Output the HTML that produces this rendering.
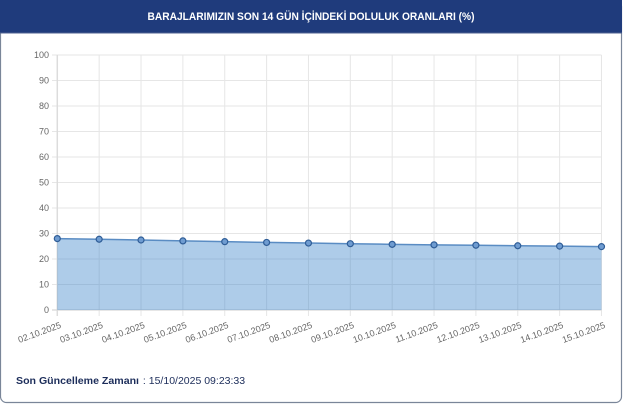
<!DOCTYPE html>
<html><head><meta charset="utf-8"><style>
html,body{margin:0;padding:0;background:#fff;width:640px;height:404px;overflow:hidden}
svg{display:block}
</style></head><body>
<svg width="640" height="404" viewBox="0 0 640 404" xmlns="http://www.w3.org/2000/svg" font-family="Liberation Sans, Arial, sans-serif">
<!-- card -->
<rect x="0.5" y="0.5" width="621" height="402" rx="6" ry="6" fill="#fff" stroke="#7a8699" stroke-width="1.2"/>
<rect x="0" y="0" width="622" height="33" fill="#1f3b7c"/>
<line x1="0" y1="33" x2="622" y2="33" stroke="#4f6290" stroke-width="1"/>
<text x="311" y="19.8" text-anchor="middle" fill="#fff" font-size="11" font-weight="bold" textLength="327" lengthAdjust="spacingAndGlyphs">BARAJLARIMIZIN SON 14 GÜN İÇİNDEKİ DOLULUK ORANLARI (%)</text>

<!-- horizontal grid -->
<g stroke="#e6e6e6" stroke-width="1">
<line x1="52" y1="284.5" x2="601.5" y2="284.5"/>
<line x1="52" y1="259" x2="601.5" y2="259"/>
<line x1="52" y1="233.5" x2="601.5" y2="233.5"/>
<line x1="52" y1="208" x2="601.5" y2="208"/>
<line x1="52" y1="182.5" x2="601.5" y2="182.5"/>
<line x1="52" y1="157" x2="601.5" y2="157"/>
<line x1="52" y1="131.5" x2="601.5" y2="131.5"/>
<line x1="52" y1="106" x2="601.5" y2="106"/>
<line x1="52" y1="80.5" x2="601.5" y2="80.5"/>
<line x1="52" y1="55" x2="601.5" y2="55"/>
</g>
<!-- vertical grid -->
<g stroke="#e6e6e6" stroke-width="1">
<line x1="99.16" y1="55" x2="99.16" y2="316"/>
<line x1="141.02" y1="55" x2="141.02" y2="316"/>
<line x1="182.88" y1="55" x2="182.88" y2="316"/>
<line x1="224.74" y1="55" x2="224.74" y2="316"/>
<line x1="266.6" y1="55" x2="266.6" y2="316"/>
<line x1="308.46" y1="55" x2="308.46" y2="316"/>
<line x1="350.32" y1="55" x2="350.32" y2="316"/>
<line x1="392.18" y1="55" x2="392.18" y2="316"/>
<line x1="434.04" y1="55" x2="434.04" y2="316"/>
<line x1="475.9" y1="55" x2="475.9" y2="316"/>
<line x1="517.76" y1="55" x2="517.76" y2="316"/>
<line x1="559.62" y1="55" x2="559.62" y2="316"/>
<line x1="601.48" y1="55" x2="601.48" y2="316"/>
</g>
<!-- axes -->
<line x1="57.3" y1="55" x2="57.3" y2="316" stroke="#dcdcdc" stroke-width="1.5"/>
<line x1="52" y1="310" x2="601.5" y2="310" stroke="#d8d8d8" stroke-width="1.2"/>

<!-- area -->
<polygon fill="rgba(52,128,200,0.4)" points="57.3,310 57.3,238.6 99.16,239.24 141.02,240 182.88,240.9 224.74,241.66 266.6,242.42 308.46,243.06 350.32,243.7 392.18,244.34 434.04,244.85 475.9,245.23 517.76,245.74 559.62,246.12 601.48,246.63 601.48,310"/>
<polyline fill="none" stroke="#5a8cc3" stroke-width="1.5" points="57.3,238.6 99.16,239.24 141.02,240 182.88,240.9 224.74,241.66 266.6,242.42 308.46,243.06 350.32,243.7 392.18,244.34 434.04,244.85 475.9,245.23 517.76,245.74 559.62,246.12 601.48,246.63"/>
<g fill="#6f9cd1" stroke="#2f5d97" stroke-width="1.2">
<circle cx="57.3" cy="238.6" r="3"/>
<circle cx="99.16" cy="239.24" r="3"/>
<circle cx="141.02" cy="240" r="3"/>
<circle cx="182.88" cy="240.9" r="3"/>
<circle cx="224.74" cy="241.66" r="3"/>
<circle cx="266.6" cy="242.42" r="3"/>
<circle cx="308.46" cy="243.06" r="3"/>
<circle cx="350.32" cy="243.7" r="3"/>
<circle cx="392.18" cy="244.34" r="3"/>
<circle cx="434.04" cy="244.85" r="3"/>
<circle cx="475.9" cy="245.23" r="3"/>
<circle cx="517.76" cy="245.74" r="3"/>
<circle cx="559.62" cy="246.12" r="3"/>
<circle cx="601.48" cy="246.63" r="3"/>
</g>

<!-- y labels -->
<g font-size="9" fill="#666" text-anchor="end">
<text x="49" y="313.2">0</text>
<text x="49" y="287.7">10</text>
<text x="49" y="262.2">20</text>
<text x="49" y="236.7">30</text>
<text x="49" y="211.2">40</text>
<text x="49" y="185.7">50</text>
<text x="49" y="160.2">60</text>
<text x="49" y="134.7">70</text>
<text x="49" y="109.2">80</text>
<text x="49" y="83.7">90</text>
<text x="49" y="58.2">100</text>
</g>

<!-- x labels -->
<g font-size="9" fill="#666" text-anchor="end">
<text transform="translate(59.3,321) rotate(-20)" dy="7">02.10.2025</text>
<text transform="translate(101.16,321) rotate(-20)" dy="7">03.10.2025</text>
<text transform="translate(143.02,321) rotate(-20)" dy="7">04.10.2025</text>
<text transform="translate(184.88,321) rotate(-20)" dy="7">05.10.2025</text>
<text transform="translate(226.74,321) rotate(-20)" dy="7">06.10.2025</text>
<text transform="translate(268.6,321) rotate(-20)" dy="7">07.10.2025</text>
<text transform="translate(310.46,321) rotate(-20)" dy="7">08.10.2025</text>
<text transform="translate(352.32,321) rotate(-20)" dy="7">09.10.2025</text>
<text transform="translate(394.18,321) rotate(-20)" dy="7">10.10.2025</text>
<text transform="translate(436.04,321) rotate(-20)" dy="7">11.10.2025</text>
<text transform="translate(477.9,321) rotate(-20)" dy="7">12.10.2025</text>
<text transform="translate(519.76,321) rotate(-20)" dy="7">13.10.2025</text>
<text transform="translate(561.62,321) rotate(-20)" dy="7">14.10.2025</text>
<text transform="translate(603.48,321) rotate(-20)" dy="7">15.10.2025</text>
</g>

<!-- footer -->
<text x="16" y="384" font-size="10.5" fill="#1c2d5a"><tspan font-weight="bold" textLength="123" lengthAdjust="spacingAndGlyphs">Son Güncelleme Zamanı</tspan><tspan x="140"> : 15/10/2025 09:23:33</tspan></text>
</svg>
</body></html>
